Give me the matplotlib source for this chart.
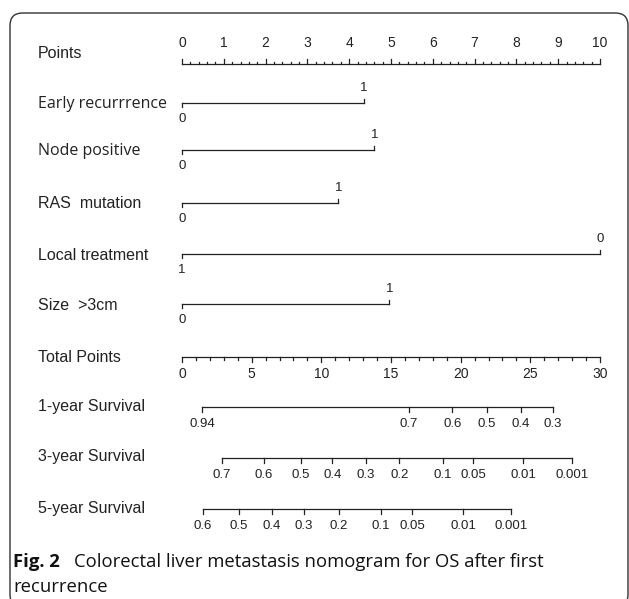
import matplotlib.pyplot as plt
from matplotlib.patches import FancyBboxPatch

# ---- data ----
points_ticks = list(range(0, 11))
var_names = ["Early recurrrence", "Node positive", "RAS  mutation",
             "Local treatment", "Size  >3cm"]
var_lo_label = ["0", "0", "0", "1", "0"]      # level at 0 points
var_hi_label = ["1", "1", "1", "0", "1"]      # level at the far end
var_hi_points = [4.35, 4.6, 3.74, 10.0, 4.96]

total_ticks = [0, 5, 10, 15, 20, 25, 30]
total_max = 30

surv1_labels = ["0.94", "0.7", "0.6", "0.5", "0.4", "0.3"]
surv1_total = [1.44, 16.3, 19.4, 21.9, 24.3, 26.6]
surv3_labels = ["0.7", "0.6", "0.5", "0.4", "0.3", "0.2", "0.1", "0.05", "0.01", "0.001"]
surv3_total = [2.87, 5.88, 8.54, 10.8, 13.2, 15.6, 18.7, 20.9, 24.5, 28.0]
surv5_labels = ["0.6", "0.5", "0.4", "0.3", "0.2", "0.1", "0.05", "0.01", "0.001"]
surv5_total = [1.51, 4.09, 6.46, 8.76, 11.27, 14.28, 16.5, 20.2, 23.6]

# ---- layout (pixel rows, top-down) ----
W, H = 629, 599
ink = "#222222"
lw = 0.9
arial = ["Liberation Sans", "DejaVu Sans"]
myriad = ["Open Sans", "DejaVu Sans"]
narrow = ["Liberation Sans Narrow", "Liberation Sans", "DejaVu Sans"]
var_fonts = [myriad, myriad, arial, narrow, arial]
var_rows = [103, 150, 203, 254, 304]
lab_x = 38 / W
tick_fs = 9.5

fig = plt.figure(figsize=(W / 100, H / 100), dpi=100)
ax = fig.add_axes([182 / W, 0, 418 / W, 1])
ax.set_xlim(0, 10)
ax.set_ylim(H, 0)
ax.axis("off")


def row_label(text, y, fam=arial, size=11.5):
    fig.text(lab_x, 1 - y / H, text, ha="left", va="center",
             fontsize=size, family=fam, color=ink)


# Points axis (labels above, ticks up)
y0 = 64
ax.plot([0, 10], [y0, y0], color=ink, lw=lw, clip_on=False)
for i in range(51):
    p = i * 0.2
    ln = 5 if i % 5 == 0 else 2.5
    ax.plot([p, p], [y0, y0 - ln], color=ink, lw=lw, clip_on=False)
for p in points_ticks:
    ax.text(p, 43, str(p), ha="center", va="center", fontsize=10,
            family=arial, color=ink)
row_label("Points", 54)

# variable rows
for name, lo, hi, hp, y, fam in zip(var_names, var_lo_label, var_hi_label,
                                     var_hi_points, var_rows, var_fonts):
    ax.plot([0, hp], [y, y], color=ink, lw=lw, clip_on=False)
    ax.plot([0, 0], [y, y + 4], color=ink, lw=lw, clip_on=False)
    ax.plot([hp, hp], [y, y - 4], color=ink, lw=lw, clip_on=False)
    ax.text(0, y + 16, lo, ha="center", va="center", fontsize=tick_fs,
            family=arial, color=ink)
    ax.text(hp, y - 15, hi, ha="center", va="center", fontsize=tick_fs,
            family=arial, color=ink)
    row_label(name, y + 1, fam)

# Total points axis (ticks down)
yt = 357
scale = 10 / total_max
ax.plot([0, 10], [yt, yt], color=ink, lw=lw, clip_on=False)
for t in range(total_max + 1):
    ln = 5 if t % 5 == 0 else 3
    ax.plot([t * scale] * 2, [yt, yt + ln], color=ink, lw=lw, clip_on=False)
for t in total_ticks:
    ax.text(t * scale, yt + 17, str(t), ha="center", va="center",
            fontsize=10, family=arial, color=ink)
row_label("Total Points", 357)

# survival axes
surv = [("1-year Survival", surv1_labels, surv1_total, 407),
        ("3-year Survival", surv3_labels, surv3_total, 458),
        ("5-year Survival", surv5_labels, surv5_total, 509)]
for name, labs, tots, y in surv:
    xs = [t * scale for t in tots]
    ax.plot([xs[0], xs[-1]], [y, y], color=ink, lw=lw, clip_on=False)
    for x, lab in zip(xs, labs):
        ax.plot([x, x], [y, y + 5], color=ink, lw=lw, clip_on=False)
        ax.text(x, y + 17, lab, ha="center", va="center", fontsize=tick_fs,
                family=arial, color=ink)
    row_label(name, y - 1)

# caption
cap_fs = 13.3
fig.text(13 / W, 1 - 567 / H, "Fig. 2", fontsize=cap_fs, family=myriad,
         weight="bold", color="#111111", va="baseline")
fig.text(74 / W, 1 - 567 / H,
         "Colorectal liver metastasis nomogram for OS after first",
         fontsize=cap_fs, family=myriad, color="#111111", va="baseline")
fig.text(13 / W, 1 - 592 / H, "recurrence", fontsize=cap_fs, family=myriad,
         color="#111111", va="baseline")

# rounded frame
frame = FancyBboxPatch((10 / W, -8 / H), 618 / W, (H - 13 + 8) / H,
                       boxstyle="round,pad=0,rounding_size=0.02",
                       transform=fig.transFigure, fill=False,
                       edgecolor="#333333", lw=1.0, mutation_aspect=W / H)
fig.patches.append(frame)

fig.savefig("out.png", dpi=100)
